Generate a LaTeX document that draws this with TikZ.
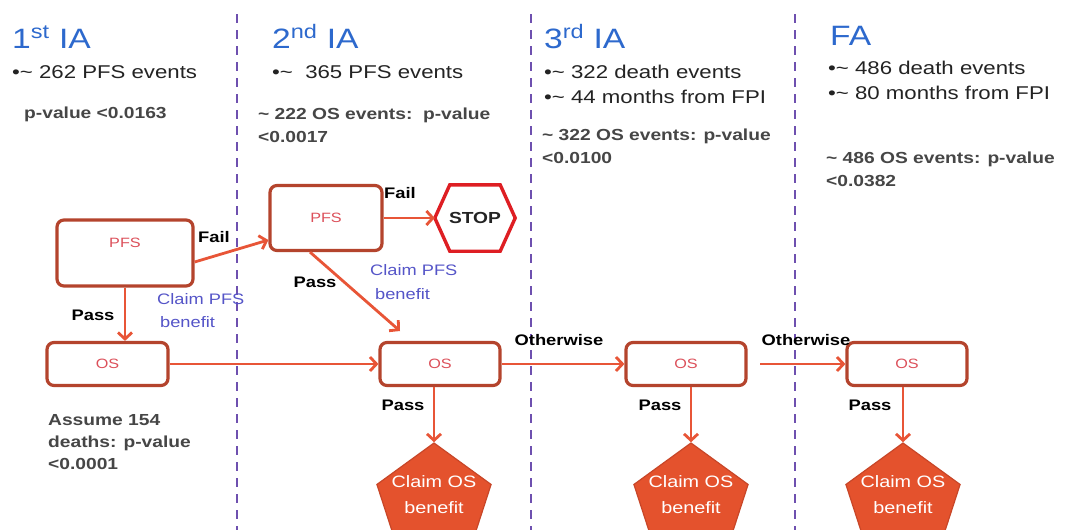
\documentclass[tikz,border=0pt]{standalone}
\usepackage{fontspec}
\setmainfont[FakeStretch=1.2]{Liberation Sans}
\usetikzlibrary{arrows.meta,shapes.geometric}
\definecolor{titleblue}{RGB}{45,105,205}
\definecolor{boxred}{RGB}{180,68,45}
\definecolor{arrowred}{RGB}{232,85,55}
\definecolor{pentred}{RGB}{228,82,45}
\definecolor{pentedge}{RGB}{200,70,40}
\definecolor{labred}{RGB}{220,80,90}
\definecolor{divpurple}{RGB}{110,80,175}
\definecolor{claimblue}{RGB}{85,85,200}
\definecolor{pgray}{RGB}{70,70,70}
\definecolor{txt}{RGB}{35,35,35}
\definecolor{stopred}{RGB}{222,30,35}
\begin{document}
\begin{tikzpicture}[x=1pt,y=-1pt,
  title/.style={anchor=base west, inner sep=0, text=titleblue, font=\fontsize{28}{30}\selectfont},
  bul/.style={anchor=base west, inner sep=0, text=txt, font=\fontsize{18.5}{20}\selectfont},
  pval/.style={anchor=base west, inner sep=0, text=pgray, font=\fontsize{16}{18}\selectfont\bfseries},
  lab/.style={inner sep=0, text=black, font=\fontsize{15.3}{17}\selectfont\bfseries},
  claim/.style={anchor=west, inner sep=0, text=claimblue, font=\fontsize{15.2}{17}\selectfont},
  box/.style={draw=boxred, line width=3.2pt, rounded corners=7pt, fill=white, inner sep=0,
    text=labred, font=\fontsize{13.5}{15}\selectfont},
  osbox/.style={box, minimum width=120pt, minimum height=43pt},
  pent/.style={regular polygon, regular polygon sides=5, minimum size=120pt, inner sep=0,
    fill=pentred, draw=pentedge, line width=1.2pt},
  penttext/.style={inner sep=0, text=white, align=center, font=\fontsize{16.5}{26}\selectfont},
  conn/.style={draw=arrowred, line width=2.8pt, -{Straight Barb[length=6.5pt,width=14pt]}},
  divider/.style={draw=divpurple, line width=2.4pt, dash pattern=on 9pt off 7pt}
]
\useasboundingbox (0,0) rectangle (1066,530);
\fill[white] (0,0) rectangle (1066,530);

% dividers
\draw[divider] (237,14) -- (237,530);
\draw[divider] (531,14) -- (531,530);
\draw[divider] (795,14) -- (795,530);

% column headers
\node[title] (t1) at (12,48) {1\textsuperscript{st} IA};
\node[title] (t2) at (272,48) {2\textsuperscript{nd} IA};
\node[title] (t3) at (544,48) {3\textsuperscript{rd} IA};
\node[title] (t4) at (830,45) {FA};

\node[bul] (b1) at (12,78) {•\textasciitilde{} 262 PFS events};
\node[bul] (b2) at (272,78) {•\textasciitilde{}\ \ 365 PFS events};
\node[bul] (b3a) at (544,78) {•\textasciitilde{} 322 death events};
\node[bul] (b3b) at (544,103) {•\textasciitilde{} 44 months from FPI};
\node[bul] (b4a) at (828,74) {•\textasciitilde{} 486 death events};
\node[bul] (b4b) at (828,99) {•\textasciitilde{} 80 months from FPI};

\node[pval] (p1) at (24,118) {p-value <0.0163};
\node[pval] (p2a) at (258,119) {\textasciitilde{} 222 OS events:\ \ p-value};
\node[pval] (p2b) at (258,142) {<0.0017};
\node[pval] (p3a) at (542,140) {\textasciitilde{} 322 OS events: p-value};
\node[pval] (p3b) at (542,163) {<0.0100};
\node[pval] (p4a) at (826,163) {\textasciitilde{} 486 OS events: p-value};
\node[pval] (p4b) at (826,186) {<0.0382};

\node[pval] (a1) at (48,425) {Assume 154};
\node[pval] (a2) at (48,447) {deaths: p-value};
\node[pval] (a3) at (48,469) {<0.0001};

% boxes
\node[box, minimum width=136pt, minimum height=66pt, text depth=20pt] (pfs1) at (125,253) {PFS};
\node[osbox, minimum width=121pt] (os1) at (107.5,364) {OS};
\node[box, minimum width=112pt, minimum height=65pt] (pfs2) at (326,218) {PFS};
\node[osbox] (os2) at (440,364) {OS};
\node[osbox] (os3) at (686,364) {OS};
\node[osbox] (os4) at (907,364) {OS};

% STOP hexagon
\node[inner sep=0, minimum width=80pt, minimum height=66pt, text=txt,
  font=\fontsize{16}{18}\selectfont\bfseries] (stop) at (475,218) {STOP};
\draw[stopred, line width=3.4pt, line join=miter]
  (stop.west) -- ([xshift=15pt]stop.north west) -- ([xshift=-15pt]stop.north east)
  -- (stop.east) -- ([xshift=-15pt]stop.south east) -- ([xshift=15pt]stop.south west) -- cycle;

% pentagons
\node[pent] (c2) at (434,503) {};
\node[pent] (c3) at (691,503) {};
\node[pent] (c4) at (903,503) {};
\node[penttext] (c2t) at (434,495) {Claim OS\\benefit};
\node[penttext] (c3t) at (691,495) {Claim OS\\benefit};
\node[penttext] (c4t) at (903,495) {Claim OS\\benefit};

% connectors
\coordinate (pfs2target) at (400,331);
\coordinate (os3out) at (760,364);
\draw[conn] ([yshift=-9pt]pfs1.east) -- ([yshift=-22pt]pfs2.west);
\draw[conn] (pfs1.south) -- (pfs1.south |- os1.north);
\draw[conn] (os1.east) -- (os2.west);
\draw[conn] (pfs2.east) -- (stop.west);
\draw[conn] ([xshift=-16pt]pfs2.south) -- (pfs2target);
\draw[conn] (os2.east) -- (os3.west);
\draw[conn] (os3out) -- (os4.west);
\draw[conn] ([xshift=-6pt]os2.south) -- ([xshift=-6pt]os2.south |- c2.corner 1);
\draw[conn] ([xshift=5pt]os3.south) -- ([xshift=5pt]os3.south |- c3.corner 1);
\draw[conn] ([xshift=-4pt]os4.south) -- ([xshift=-4pt]os4.south |- c4.corner 1);

% connector labels
\node[lab] (fail1) at (214,237) {Fail};
\node[lab] (pass1) at (93,315) {Pass};
\node[claim] (cl1a) at (157,299) {Claim PFS};
\node[claim] (cl1b) at (160,322) {benefit};
\node[lab] (fail2) at (400,193) {Fail};
\node[lab] (pass2) at (315,282) {Pass};
\node[claim] (cl2a) at (370,270) {Claim PFS};
\node[claim] (cl2b) at (375,294) {benefit};
\node[lab] (oth1) at (559,340) {Otherwise};
\node[lab] (oth2) at (806,340) {Otherwise};
\node[lab] (pass3) at (403,405) {Pass};
\node[lab] (pass4) at (660,405) {Pass};
\node[lab] (pass5) at (870,405) {Pass};
\end{tikzpicture}
\end{document}
